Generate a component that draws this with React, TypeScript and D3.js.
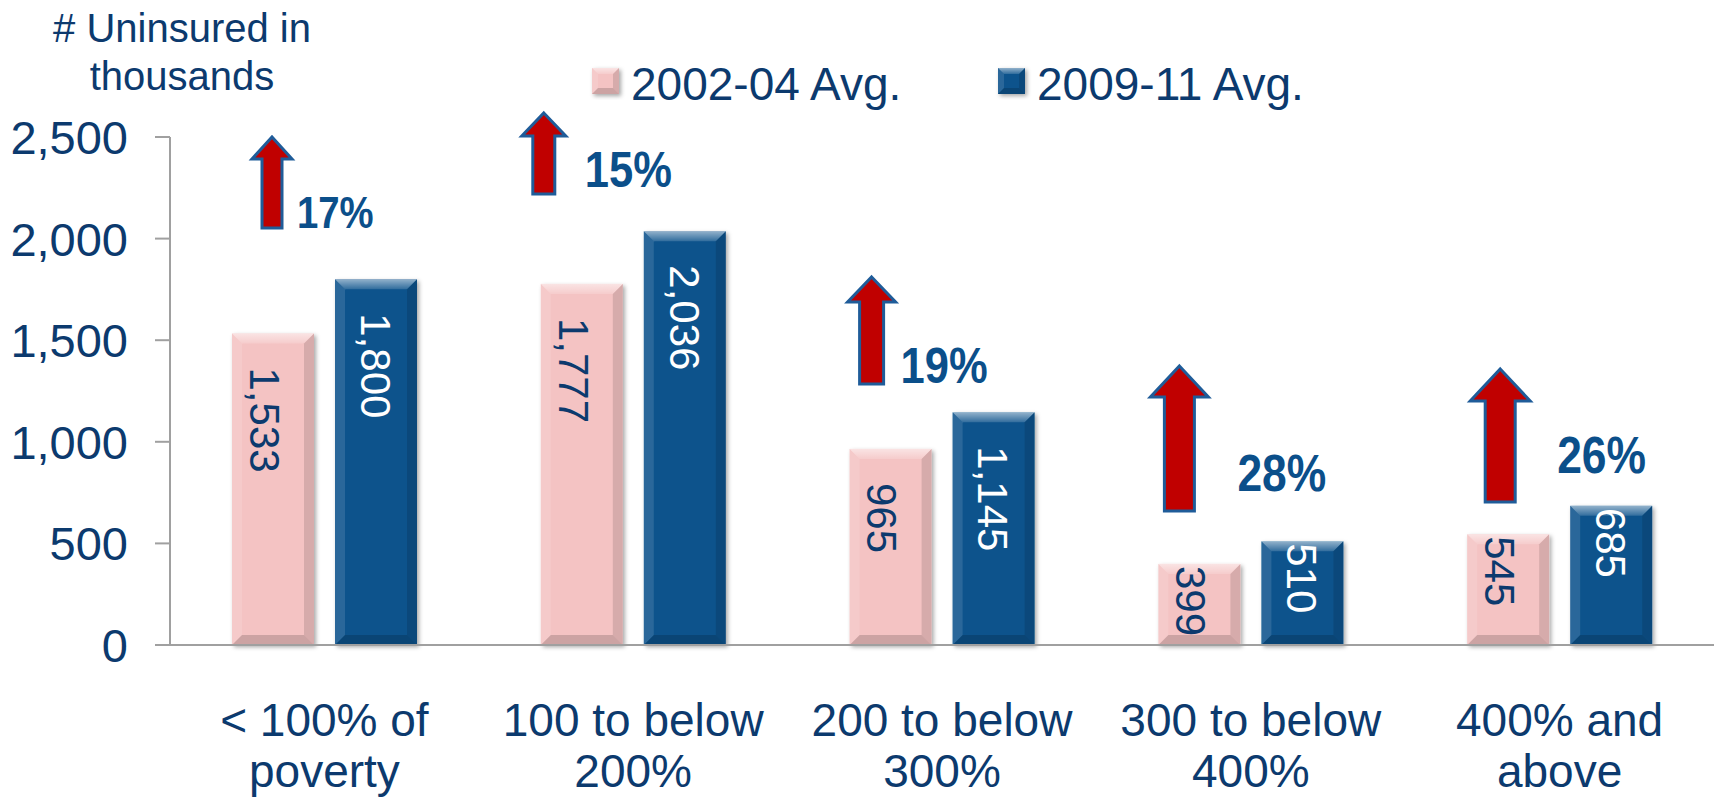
import React from "react";
import * as d3 from "d3";

// data
const categories = ["< 100% of poverty", "100 to below 200%", "200 to below 300%", "300 to below 400%", "400% and above"];
const categoryLines = [
  ["< 100% of", "poverty"],
  ["100 to below", "200%"],
  ["200 to below", "300%"],
  ["300 to below", "400%"],
  ["400% and", "above"],
];
const seriesNames = ["2002-04 Avg.", "2009-11 Avg."];
const avg0204 = [1533, 1777, 965, 399, 545];
const avg0911 = [1800, 2036, 1145, 510, 685];
const pctChange = ["17%", "15%", "19%", "28%", "26%"];
const yTicks = [0, 500, 1000, 1500, 2000, 2500];

// annotation layout (arrow + pct label), pixel offsets from the band start
const arrowLayout = [
  { dx: 102, tip: 137, base: 159, bottom: 228, head: 20, shaft: 10, tx: 127, ty: 228, fs: 44 },
  { dx: 65, tip: 113, base: 136, bottom: 194, head: 22, shaft: 11, tx: 106, ty: 187, fs: 50 },
  { dx: 84, tip: 277, base: 302, bottom: 384, head: 24, shaft: 12, tx: 113, ty: 383, fs: 50 },
  { dx: 83, tip: 366, base: 397, bottom: 511, head: 29, shaft: 15, tx: 141, ty: 491, fs: 51 },
  { dx: 95, tip: 369, base: 401, bottom: 502, head: 30, shaft: 15, tx: 152, ty: 473, fs: 51 },
];

const W = 1714;
const H = 801;
const NAVY = "#0c3a6e";
const PCT = "#0b4f8a";
const FONT = "'Liberation Sans', Arial, Helvetica, sans-serif";
const colors = ["#f4c3c3", "#0a528c"];
const labelColors = [NAVY, "#ffffff"];

function Bevel({ x, y, w, h, fill, b = 10 }) {
  const pts = (arr) => arr.map((p) => p.join(",")).join(" ");
  return (
    <g>
      <rect x={x} y={y} width={w} height={h} fill={fill} filter="url(#shadow)" />
      <polygon points={pts([[x, y], [x + w, y], [x + w - b, y + b], [x + b, y + b]])} fill="url(#topBevel)" />
      <polygon points={pts([[x, y], [x + b, y + b], [x + b, y + h - b], [x, y + h]])} fill="#ffffff" opacity={0.12} />
      <polygon points={pts([[x + w, y], [x + w, y + h], [x + w - b, y + h - b], [x + w - b, y + b]])} fill="#000000" opacity={0.12} />
      <polygon points={pts([[x, y + h], [x + b, y + h - b], [x + w - b, y + h - b], [x + w, y + h]])} fill="#000000" opacity={0.16} />
    </g>
  );
}

export default function App() {
  const x0 = 170;
  const y0 = 645;
  const xScale = d3.scaleBand().domain(categories).range([x0, W]).padding(0);
  const xSub = d3.scaleBand().domain(["0", "1"]).range([62, 62 + 185]).paddingInner(0.204).paddingOuter(0);
  const yScale = d3.scaleLinear().domain([0, 2500]).range([y0, 137]);
  const fmt = d3.format(",");
  const series = [avg0204, avg0911];

  const arrowPath = (cx, a) =>
    `M${cx},${a.tip} L${cx + a.head},${a.base} L${cx + a.shaft},${a.base} L${cx + a.shaft},${a.bottom} L${cx - a.shaft},${a.bottom} L${cx - a.shaft},${a.base} L${cx - a.head},${a.base} Z`;

  return (
    <svg width={W} height={H} style={{ position: "fixed", left: 0, top: 0, display: "block", background: "#fff" }} fontFamily={FONT}>
      <defs>
        <filter id="shadow" x="-20%" y="-10%" width="150%" height="130%">
          <feDropShadow dx="2" dy="2" stdDeviation="2" floodColor="#000" floodOpacity="0.35" />
        </filter>
        <linearGradient id="topBevel" x1="0" y1="0" x2="0" y2="1">
          <stop offset="0" stopColor="#ffffff" stopOpacity="0.55" />
          <stop offset="1" stopColor="#ffffff" stopOpacity="0.15" />
        </linearGradient>
      </defs>

      {/* title */}
      <text x={182} y={42} fontSize={40} fill={NAVY} textAnchor="middle">
        # Uninsured in
      </text>
      <text x={182} y={90} fontSize={40} fill={NAVY} textAnchor="middle">
        thousands
      </text>

      {/* legend */}
      {seriesNames.map((s, i) => {
        const lx = i === 0 ? 592 : 998;
        return (
          <g key={s}>
            <Bevel x={lx} y={68} w={27} h={26} fill={colors[i]} b={6} />
            <text x={lx + 39} y={100} fontSize={46} fill={NAVY}>
              {s}
            </text>
          </g>
        );
      })}

      {/* y axis */}
      <line x1={x0} x2={x0} y1={yScale(2500)} y2={y0} stroke="#a0a0a0" strokeWidth={2} />
      {yTicks.map((t) => (
        <g key={t}>
          <line x1={155} x2={x0} y1={yScale(t)} y2={yScale(t)} stroke="#a0a0a0" strokeWidth={2} />
          <text x={128} y={yScale(t)} dy="0.36em" fontSize={47} fill={NAVY} textAnchor="end">
            {fmt(t)}
          </text>
        </g>
      ))}

      {/* bars */}
      {categories.map((c, ci) => (
        <g key={c}>
          {series.map((vals, si) => {
            const bx = xScale(c) + xSub(String(si));
            const bw = xSub.bandwidth();
            const by = yScale(vals[ci]);
            const bh = y0 - by;
            const off = bh > 150 ? 34 : 2;
            const cx = bx + bw / 2 + (si === 0 ? -8 : 0);
            return (
              <g key={si}>
                <Bevel x={bx} y={by} w={bw} h={bh} fill={colors[si]} />
                <text
                  transform={`translate(${cx},${by + off}) rotate(90)`}
                  fontSize={42}
                  fill={labelColors[si]}
                  dy="0.36em"
                >
                  {fmt(vals[ci])}
                </text>
              </g>
            );
          })}
        </g>
      ))}

      {/* x axis */}
      <line x1={155} x2={W} y1={y0} y2={y0} stroke="#a0a0a0" strokeWidth={2} />
      {categories.map((c, ci) => (
        <g key={c}>
          {categoryLines[ci].map((ln, li) => (
            <text
              key={li}
              x={xScale(c) + xScale.bandwidth() / 2}
              y={736 + li * 51}
              fontSize={46}
              fill={NAVY}
              textAnchor="middle"
            >
              {ln}
            </text>
          ))}
        </g>
      ))}

      {/* arrows and pct change */}
      {categories.map((c, ci) => {
        const a = arrowLayout[ci];
        const cx = xScale(c) + a.dx;
        return (
          <g key={c}>
            <path d={arrowPath(cx, a)} fill="#c00000" stroke="#1f5c99" strokeWidth={3} strokeLinejoin="miter" />
            <text
              transform={`translate(${xScale(c) + a.tx},${a.ty}) scale(0.87,1)`}
              fontSize={a.fs}
              fontWeight="bold"
              fill={PCT}
            >
              {pctChange[ci]}
            </text>
          </g>
        );
      })}
    </svg>
  );
}
